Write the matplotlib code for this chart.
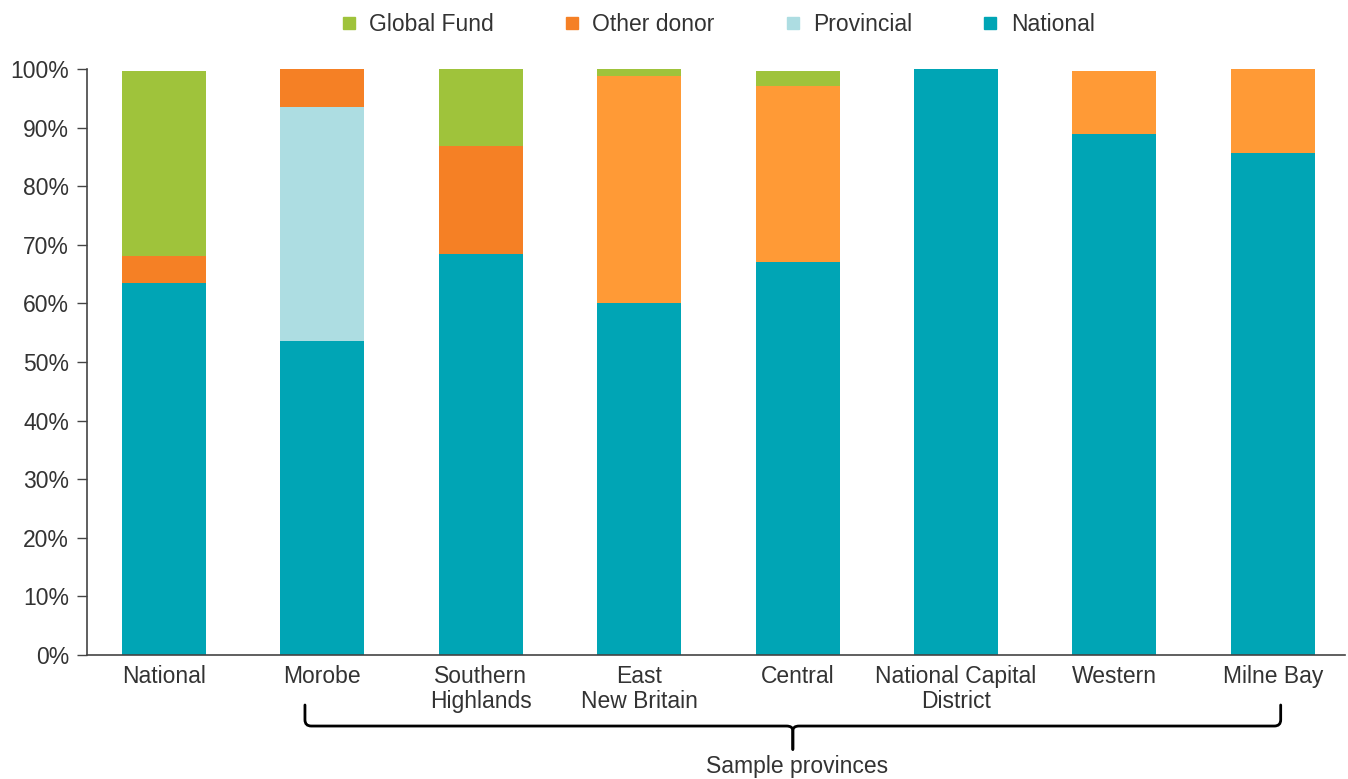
import numpy as np
import matplotlib.pyplot as plt
from matplotlib.lines import Line2D
from matplotlib.path import Path
from matplotlib.patches import PathPatch
import matplotlib.transforms as mtransforms

plt.rcParams['font.family'] = ['Liberation Sans', 'DejaVu Sans']

# share of funding by source, in percent
regions = ['National', 'Morobe', 'Southern\nHighlands', 'East\nNew Britain', 'Central',
           'National Capital\nDistrict', 'Western', 'Milne Bay']
national = [63.5, 53.5, 68.5, 60.0, 67.1, 100.0, 88.9, 85.7]
provincial = [0, 40.0, 0, 0, 0, 0, 0, 0]
other_donor = [4.6, 6.5, 18.4, 38.8, 30.0, 0, 10.8, 14.3]
global_fund = [31.6, 0, 13.1, 1.2, 2.6, 0, 0, 0]

c_nat = '#00A5B5'
c_prov = '#ADDDE2'
c_gf = '#9FC33B'
# other donor shade differs between the first three bars and the rest
c_other = ['#F58025'] * 3 + ['#FF9A36'] * 5

txt = '#333333'
fs = 16.5

fig = plt.figure(figsize=(13.48, 7.79), dpi=100)
ax = fig.add_axes([87 / 1348, 1 - 655 / 779, (1345 - 87) / 1348, 586 / 779])

x = np.arange(len(regions))
w = 0.53
bottom = np.zeros(len(regions))
ax.bar(x, national, w, bottom=bottom, color=c_nat, clip_on=False)
bottom += national
ax.bar(x, provincial, w, bottom=bottom, color=c_prov, clip_on=False)
bottom += provincial
ax.bar(x, other_donor, w, bottom=bottom, color=c_other, clip_on=False)
bottom += other_donor
ax.bar(x, global_fund, w, bottom=bottom, color=c_gf, clip_on=False)

ax.set_xlim(-0.486, 7.456)
ax.set_ylim(0, 100)
ax.set_yticks(np.arange(0, 101, 10))
ax.set_yticklabels([f'{v}%' for v in range(0, 101, 10)])
ax.set_xticks(x)
ax.set_xticklabels(regions, linespacing=1.1)

for s in ['top', 'right']:
    ax.spines[s].set_visible(False)
for s in ['left', 'bottom']:
    ax.spines[s].set_color('#444444')
    ax.spines[s].set_linewidth(1.2)

ax.tick_params(axis='y', length=7, width=1, color='#444444', labelsize=fs, labelcolor=txt, pad=6)
ax.tick_params(axis='x', length=0, labelsize=fs, labelcolor=txt, pad=7)

# legend across the top
labels = ['Global Fund', 'Other donor', 'Provincial', 'National']
colors = [c_gf, '#F58025', c_prov, c_nat]
handles = [Line2D([], [], ls='none', marker='s', markersize=9, color=c) for c in colors]
fig.legend(handles, labels, loc='center', bbox_to_anchor=(0.532, 0.969), ncol=4,
           frameon=False, fontsize=fs, labelcolor=txt, handlelength=0.8,
           handletextpad=0.5, columnspacing=3.0)

# brace under the sample provinces
tr = mtransforms.blended_transform_factory(ax.transData, fig.transFigure)
xl, xr, xm = 0.89, 7.05, 3.97
y0, y1, y2 = 0.095, 0.068, 0.038
r = 0.04
verts = [(xl, y0), (xl, y1 + 0.008), (xl, y1), (xl + r, y1),
         (xm - r, y1), (xm, y1), (xm, y1 - 0.006), (xm, y2)]
codes = [Path.MOVETO, Path.LINETO, Path.CURVE3, Path.CURVE3,
         Path.LINETO, Path.CURVE3, Path.CURVE3, Path.LINETO]
ax.add_patch(PathPatch(Path(verts, codes), transform=tr, fill=False, lw=2,
                       color='black', clip_on=False, capstyle='round'))
verts = [(xr, y0), (xr, y1 + 0.008), (xr, y1), (xr - r, y1),
         (xm + r, y1), (xm, y1), (xm, y1 - 0.006), (xm, y2)]
ax.add_patch(PathPatch(Path(verts, codes), transform=tr, fill=False, lw=2,
                       color='black', clip_on=False, capstyle='round'))
fig.text(797 / 1348, 1 - 766 / 779, 'Sample provinces', ha='center', va='center',
         fontsize=fs, color=txt)

fig.savefig('out.png', dpi=100)
